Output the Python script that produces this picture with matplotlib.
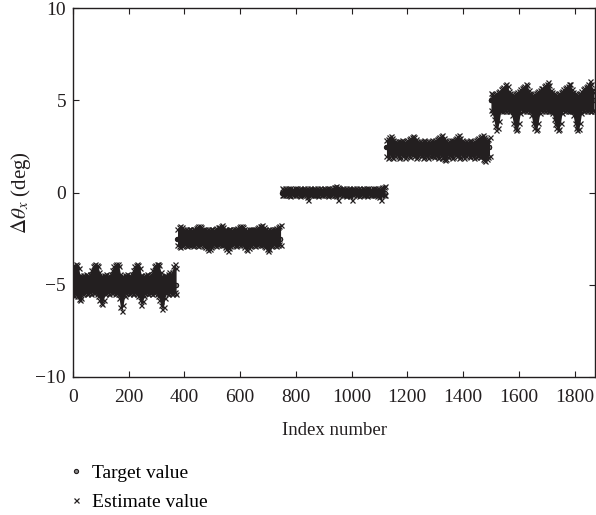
import numpy as np
import matplotlib
matplotlib.use("Agg")
import matplotlib.pyplot as plt

# Target levels (deg) and samples per level
levels = [-5.0, -2.5, 0.0, 2.5, 5.0]
seg_len = 375
est_step = 5

# Estimate values every 5 indices: the upper and lower
# edge of the estimate cloud around each target level
up_m5 = [-4.0, -3.9, -3.85, -3.9, -4.1, -4.45, -4.5, -4.45, -4.5, -4.4,
         -4.45, -4.5, -4.4, -4.2, -4.0, -3.9, -3.85, -3.9, -4.0, -4.3,
         -4.5, -4.55, -4.45, -4.5, -4.4, -4.5, -4.45, -4.4, -4.2, -4.0,
         -3.9, -3.85, -3.85, -4.0, -4.4, -4.5, -4.5, -4.45, -4.5, -4.4,
         -4.45, -4.5, -4.4, -4.2, -4.0, -3.9, -3.85, -3.9, -4.1, -4.45,
         -4.5, -4.5, -4.45, -4.4, -4.5, -4.45, -4.4, -4.2, -4.0, -3.9,
         -3.85, -3.85, -3.95, -4.3, -4.5, -4.55, -4.45, -4.5, -4.4, -4.3,
         -4.4, -4.3, -4.0, -3.85, -4.1]
lo_m5 = [-5.5, -5.6, -5.5, -5.6, -5.75, -5.8, -5.7, -5.5, -5.45, -5.4,
         -5.5, -5.45, -5.4, -5.5, -5.4, -5.45, -5.4, -5.5, -5.6, -5.8,
         -6.0, -6.05, -5.8, -5.5, -5.45, -5.4, -5.5, -5.4, -5.45, -5.4,
         -5.5, -5.45, -5.5, -5.7, -6.2, -6.4, -6.1, -5.6, -5.45, -5.4,
         -5.5, -5.45, -5.4, -5.5, -5.4, -5.45, -5.5, -5.6, -5.85, -6.1,
         -5.9, -5.6, -5.45, -5.4, -5.5, -5.45, -5.4, -5.5, -5.45, -5.4,
         -5.5, -5.6, -5.8, -6.1, -6.3, -6.2, -5.7, -5.45, -5.5, -5.4,
         -5.45, -5.5, -5.45, -5.4, -5.5]
up_m25 = [-1.95, -1.85, -1.8, -1.85, -1.95, -2.05, -2.0, -2.05, -1.95, -2.0,
          -2.05, -2.0, -1.95, -1.9, -1.85, -1.8, -1.8, -1.85, -1.95, -2.05,
          -2.0, -2.05, -2.0, -2.05, -1.95, -2.0, -2.05, -1.95, -1.9, -1.85,
          -1.85, -1.8, -1.75, -1.85, -2.0, -2.05, -2.05, -2.0, -1.95, -2.05,
          -2.0, -1.95, -2.0, -1.9, -1.85, -1.8, -1.8, -1.85, -2.0, -2.05,
          -2.05, -2.0, -2.05, -1.95, -2.0, -2.05, -1.95, -1.9, -1.85, -1.8,
          -1.8, -1.75, -1.85, -2.0, -2.05, -2.05, -2.0, -2.05, -1.95, -2.0,
          -1.95, -1.9, -1.85, -1.8, -1.75]
lo_m25 = [-2.85, -2.9, -2.95, -2.9, -2.85, -2.8, -2.85, -2.9, -2.85, -2.8,
          -2.85, -2.9, -2.85, -2.8, -2.85, -2.9, -2.85, -2.8, -2.85, -2.9,
          -2.95, -3.0, -3.1, -3.05, -2.95, -2.85, -2.8, -2.85, -2.9, -2.85,
          -2.8, -2.85, -2.8, -2.85, -2.95, -3.05, -3.15, -3.0, -2.9, -2.85,
          -2.8, -2.85, -2.9, -2.85, -2.8, -2.85, -2.8, -2.85, -2.95, -3.05,
          -3.1, -3.0, -2.9, -2.85, -2.8, -2.85, -2.9, -2.85, -2.8, -2.85,
          -2.8, -2.85, -2.9, -2.95, -3.05, -3.15, -3.05, -2.9, -2.85, -2.8,
          -2.85, -2.9, -2.85, -2.8, -2.85]
up_0 = [0.25, 0.2, 0.25, 0.22, 0.27, 0.2, 0.25, 0.22, 0.2, 0.25,
        0.22, 0.27, 0.2, 0.25, 0.22, 0.2, 0.25, 0.22, 0.27, 0.2,
        0.25, 0.22, 0.2, 0.25, 0.22, 0.27, 0.2, 0.25, 0.22, 0.2,
        0.25, 0.22, 0.27, 0.2, 0.25, 0.22, 0.25, 0.3, 0.33, 0.36,
        0.3, 0.25, 0.22, 0.2, 0.25, 0.22, 0.27, 0.2, 0.25, 0.22,
        0.2, 0.25, 0.22, 0.27, 0.2, 0.25, 0.22, 0.2, 0.25, 0.22,
        0.27, 0.2, 0.25, 0.22, 0.2, 0.25, 0.22, 0.27, 0.2, 0.25,
        0.22, 0.25, 0.28, 0.33, 0.36]
lo_0 = [-0.15, -0.12, -0.15, -0.1, -0.15, -0.12, -0.18, -0.1, -0.15, -0.12,
        -0.15, -0.1, -0.15, -0.18, -0.12, -0.15, -0.1, -0.15, -0.25, -0.4,
        -0.15, -0.12, -0.15, -0.1, -0.15, -0.12, -0.18, -0.1, -0.15, -0.12,
        -0.15, -0.1, -0.15, -0.18, -0.12, -0.15, -0.1, -0.15, -0.12, -0.2,
        -0.4, -0.15, -0.1, -0.15, -0.12, -0.15, -0.18, -0.12, -0.15, -0.2,
        -0.4, -0.15, -0.1, -0.15, -0.12, -0.18, -0.15, -0.1, -0.15, -0.12,
        -0.15, -0.18, -0.1, -0.15, -0.12, -0.15, -0.1, -0.15, -0.18, -0.12,
        -0.25, -0.4, -0.15, -0.12, -0.15]
up_p25 = [2.85, 2.9, 3.0, 3.05, 2.95, 2.85, 2.8, 2.75, 2.8, 2.75,
          2.8, 2.85, 2.8, 2.75, 2.8, 2.85, 2.9, 2.95, 3.0, 3.05,
          3.0, 2.9, 2.8, 2.75, 2.8, 2.75, 2.8, 2.85, 2.8, 2.75,
          2.8, 2.75, 2.8, 2.85, 2.8, 2.85, 2.9, 2.95, 3.0, 3.05,
          3.1, 2.95, 2.85, 2.8, 2.75, 2.8, 2.85, 2.8, 2.85, 2.9,
          2.95, 3.05, 3.1, 2.95, 2.85, 2.8, 2.75, 2.8, 2.75, 2.8,
          2.85, 2.8, 2.75, 2.8, 2.85, 2.9, 2.95, 3.0, 3.05, 3.1,
          3.0, 2.9, 2.85, 2.9, 3.0]
lo_p25 = [2.0, 1.9, 1.95, 2.05, 1.95, 1.9, 2.0, 2.1, 2.0, 1.9,
          1.95, 2.05, 2.0, 1.9, 2.0, 2.1, 2.0, 1.95, 2.05, 2.1,
          2.0, 1.9, 1.95, 2.05, 2.1, 2.0, 1.9, 1.95, 2.05, 2.0,
          1.9, 2.0, 2.1, 2.0, 1.95, 2.05, 2.0, 1.9, 1.95, 2.05,
          1.9, 1.8, 1.75, 1.8, 1.95, 2.05, 2.0, 1.9, 1.95, 2.05,
          2.1, 2.0, 1.9, 1.95, 2.05, 2.0, 1.9, 2.0, 2.1, 2.0,
          1.95, 2.05, 2.0, 1.9, 1.95, 2.05, 2.0, 1.95, 2.0, 1.85,
          1.75, 1.72, 1.8, 1.95, 2.0]
up_p5 = [5.4, 5.35, 5.3, 5.35, 5.4, 5.45, 5.5, 5.6, 5.7, 5.75,
         5.85, 5.9, 5.8, 5.5, 5.4, 5.35, 5.3, 5.35, 5.4, 5.45,
         5.5, 5.6, 5.7, 5.75, 5.8, 5.9, 5.85, 5.55, 5.4, 5.35,
         5.3, 5.35, 5.4, 5.45, 5.5, 5.55, 5.65, 5.7, 5.8, 5.85,
         5.9, 6.0, 5.85, 5.55, 5.45, 5.4, 5.35, 5.3, 5.35, 5.4,
         5.45, 5.5, 5.6, 5.7, 5.75, 5.8, 5.9, 5.9, 5.6, 5.45,
         5.4, 5.35, 5.3, 5.35, 5.4, 5.5, 5.6, 5.7, 5.75, 5.8,
         5.9, 6.05, 5.9, 5.6, 5.45]
lo_p5 = [4.5, 4.3, 4.0, 3.6, 3.4, 3.5, 3.9, 4.4, 4.5, 4.45,
         4.5, 4.45, 4.5, 4.45, 4.4, 4.2, 3.8, 3.5, 3.4, 3.45,
         3.8, 4.3, 4.5, 4.45, 4.5, 4.45, 4.5, 4.4, 4.45, 4.2,
         3.8, 3.5, 3.4, 3.45, 3.8, 4.3, 4.5, 4.45, 4.5, 4.45,
         4.5, 4.45, 4.4, 4.45, 4.3, 4.0, 3.7, 3.5, 3.4, 3.45,
         3.8, 4.3, 4.5, 4.45, 4.5, 4.45, 4.5, 4.4, 4.45, 4.2,
         3.8, 3.5, 3.4, 3.45, 3.8, 4.3, 4.5, 4.45, 4.5, 4.45,
         4.5, 4.4, 4.45, 4.5, 4.45]
upper = [up_m5, up_m25, up_0, up_p25, up_p5]
lower = [lo_m5, lo_m25, lo_0, lo_p25, lo_p5]

plt.rcParams["font.family"] = ["Liberation Serif", "DejaVu Serif"]
plt.rcParams["mathtext.fontset"] = "stix"

fig = plt.figure(figsize=(5.96, 5.15), dpi=100)
ax = fig.add_axes([0.1225, 0.268, 0.8765, 0.716])

dark = "#231f20"
for s, lev in enumerate(levels):
    start = s * seg_len
    xt = start + np.arange(seg_len - est_step)
    ax.plot(xt, np.full(len(xt), lev), "o", ms=3.0, mfc="#8a8a8a", mec=dark,
            mew=0.8, ls="none", label="Target value" if s == 0 else None, zorder=2)
    xe = start + est_step * np.arange(len(upper[s]))
    ax.fill_between(xe, lower[s], upper[s], color=dark, lw=0, zorder=3)
    ax.plot(xe, upper[s], "x", ms=3.6, mec=dark, mew=0.9, ls="none",
            label="Estimate value" if s == 0 else None, zorder=4)
    ax.plot(xe, lower[s], "x", ms=3.6, mec=dark, mew=0.9, ls="none", zorder=4)

ax.set_xlim(0, 1875)
ax.set_ylim(-10, 10)
ax.set_xticks(np.arange(0, 1801, 200))
ax.set_yticks([-10, -5, 0, 5, 10])
ax.tick_params(direction="in", top=True, right=True, length=4, labelsize=14,
               colors=dark)
ax.tick_params(axis="x", pad=8.5)
ax.tick_params(axis="y", pad=5)
for sp in ax.spines.values():
    sp.set_color(dark)
    sp.set_linewidth(1.0)

ax.set_xlabel("Index number", fontsize=13.5, color=dark, labelpad=12)
ax.set_ylabel(r"$\Delta\theta_x$ (deg)", fontsize=15, color=dark, labelpad=2)

fig.legend(loc="upper left", bbox_to_anchor=(0.116, 0.099), frameon=False,
           fontsize=14, handletextpad=0.5, labelspacing=0.6, handlelength=0.7,
           borderpad=0, borderaxespad=0)

fig.savefig("out.png", dpi=100)
